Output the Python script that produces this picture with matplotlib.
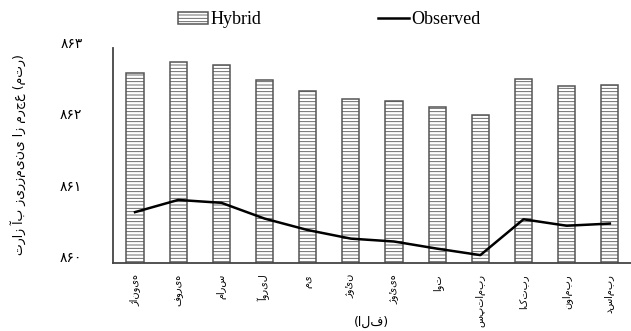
import matplotlib
matplotlib.use('Agg')
import matplotlib.pyplot as plt
import matplotlib.transforms as mtransforms
import numpy as np

months = ['ژانویه', 'فوریه', 'مارس', 'آوریل', 'می', 'ژوئن',
          'ژوئیه', 'اوت', 'سپتامبر', 'اکتبر', 'نوامبر', 'دسامبر']
hybrid = [862.65, 862.81, 862.76, 862.55, 862.40, 862.29,
          862.26, 862.17, 862.06, 862.57, 862.47, 862.49]
observed = [860.71, 860.88, 860.84, 860.62, 860.46, 860.34,
            860.30, 860.20, 860.11, 860.61, 860.52, 860.55]
yticks = [860, 861, 862, 863]
ytick_labels = ['۸۶۰', '۸۶۱', '۸۶۲', '۸۶۳']

plt.rcParams['hatch.linewidth'] = 0.6

fig = plt.figure(figsize=(6.31, 3.31), dpi=100)
ax = fig.add_axes([113 / 631, 1 - 263 / 331, 1 - 113 / 631, (263 - 48) / 331])

x = np.arange(len(months))
bars = ax.bar(x, hybrid, width=0.4, color='white', edgecolor='#555555',
              hatch='-----', linewidth=1.1, label='Hybrid', zorder=2)
line, = ax.plot(x, observed, color='black', linewidth=1.8, label='Observed', zorder=3)

ax.set_xlim(-0.51, 11.49)
ax.set_ylim(860, 863)
ax.set_yticks(yticks)
ax.set_yticklabels(ytick_labels, fontsize=10, family='DejaVu Sans')
ax.set_xticks(x)
ax.set_xticklabels(months, rotation=90, fontsize=7, family='DejaVu Sans', va='top')
ax.tick_params(axis='y', length=0, pad=22)
ax.tick_params(axis='x', length=0, pad=8)
for lab in ax.get_yticklabels():
    lab.set_transform(lab.get_transform() +
                      mtransforms.ScaledTranslation(0, 6 / 100, fig.dpi_scale_trans))

for s in ['top', 'right']:
    ax.spines[s].set_visible(False)
ax.spines['left'].set_color('#444444')
ax.spines['bottom'].set_color('#444444')
ax.spines['left'].set_linewidth(1.3)
ax.spines['bottom'].set_linewidth(1.3)

fig.legend(handles=[bars, line], labels=['Hybrid', 'Observed'],
           loc='center', bbox_to_anchor=(329 / 631, 1 - 20 / 331), ncol=2,
           frameon=False, prop={'family': 'Liberation Serif', 'size': 13},
           handlelength=1.7, handletextpad=0.1, columnspacing=6.5,
           handleheight=0.6)

fig.text(18 / 631, 1 - 155 / 331, 'تراز آب زیرزمینی از مرجع (متر)',
         rotation=90, ha='center', va='center', fontsize=9, family='DejaVu Sans')
fig.text(371 / 631, 1 - 322 / 331, '(الف)', ha='center', va='center',
         fontsize=9, family='DejaVu Sans')

fig.savefig('out.png', dpi=100)
